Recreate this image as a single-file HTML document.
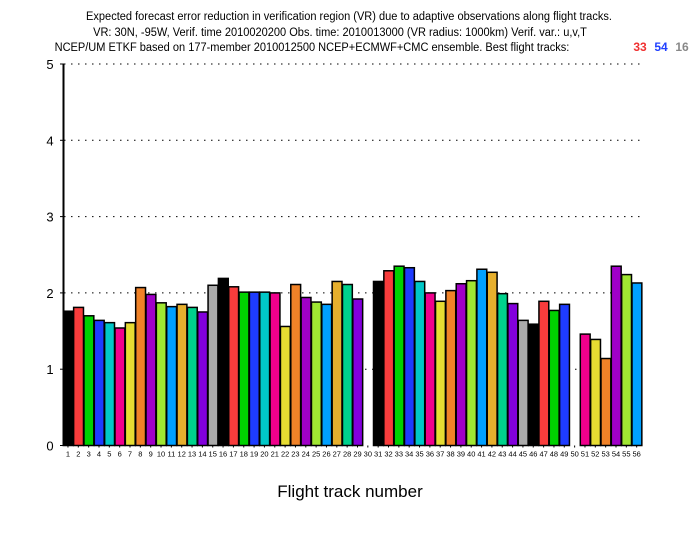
<!DOCTYPE html>
<html><head><meta charset="utf-8"><style>
body{margin:0;background:#fff}
svg text{font-family:"Liberation Sans",sans-serif}
</style></head><body>
<svg id="chart" width="700" height="540" viewBox="0 0 700 540" xmlns="http://www.w3.org/2000/svg">
<g font-size="12" text-anchor="middle">
<text x="349" y="20" transform="translate(349 0) scale(0.92 1) translate(-349 0)">Expected forecast error reduction in verification region (VR) due to adaptive observations along flight tracks.</text>
<text x="340" y="36" transform="translate(340 0) scale(0.92 1) translate(-340 0)">VR: 30N, -95W, Verif. time 2010020200 Obs. time: 2010013000 (VR radius: 1000km)  Verif. var.: u,v,T</text>
<text x="312" y="51" transform="translate(312 0) scale(0.92 1) translate(-312 0)">NCEP/UM ETKF based on 177-member 2010012500 NCEP+ECMWF+CMC ensemble. Best flight tracks:</text>
<text x="640" y="51" fill="#f03030" font-weight="bold">33</text>
<text x="661" y="51" fill="#2040ff" font-weight="bold">54</text>
<text x="682" y="51" fill="#888" font-weight="bold">16</text>
</g>
<g id="grid"></g><g id="bars"></g><g id="axes"></g>
<text x="350" y="497" font-size="17" text-anchor="middle">Flight track number</text>
</svg>
<script>
const tracks=[];for(let i=1;i<=56;i++)tracks.push(i);
const values=[1.76,1.81,1.70,1.64,1.61,1.54,1.61,2.07,1.98,1.87,1.82,1.85,1.81,1.75,2.10,2.19,2.08,2.01,2.01,2.01,2.00,1.56,2.11,1.94,1.88,1.85,2.15,2.11,1.92,0,
2.15,2.29,2.35,2.33,2.15,2.00,1.89,2.03,2.12,2.16,2.31,2.27,1.99,1.86,1.64,1.59,1.89,1.77,1.85,0,1.46,1.39,1.14,2.35,2.24,2.13];
const yTicks=[0,1,2,3,4,5];
const palette=["#000000","#f83c3c","#00d200","#1e3cff","#00c8c8","#f0008c","#e6dc32","#f08228","#a000c8","#a0e632","#00a0ff","#e6af2d","#00d28c","#8200dc","#aaaaaa"];
const NS="http://www.w3.org/2000/svg";
const x0=62.8,slot=10.34,y0=445.5,unit=76.3;
const X=i=>x0+(i-1)*slot, Y=v=>y0-v*unit;
function mk(t,a,p){const e=document.createElementNS(NS,t);for(const k in a)e.setAttribute(k,a[k]);p.appendChild(e);return e;}
const grid=document.getElementById('grid'),bars=document.getElementById('bars'),axes=document.getElementById('axes');
yTicks.forEach(v=>{
  if(v>0){const g=mk('line',{x1:64,x2:640,y1:Y(v),y2:Y(v),stroke:'#000','stroke-width':1,'stroke-dasharray':'1.5 5.5'},grid);
  
  }
  const t=mk('text',{x:50,y:Y(v)+5,'font-size':13,'text-anchor':'middle'},axes);t.textContent=v;
  
  
  mk('line',{x1:60,x2:64,y1:Y(v),y2:Y(v),stroke:'#000'},axes);
});
tracks.forEach((n,k)=>{
  const v=values[k];
  if(v>0){const r=mk('rect',{x:X(n)+0.5,y:Y(v),width:slot-0.5,height:y0-Y(v),fill:palette[(n-1)%15],stroke:'#000','stroke-width':1.5},bars);
  
  }
  const t=mk('text',{x:X(n)+slot/2,y:y0+11,'font-size':7.5,'text-anchor':'middle'},axes);t.textContent=n;
  
  
  mk('line',{x1:X(n)+slot/2,x2:X(n)+slot/2,y1:y0,y2:y0+2,stroke:'#000'},axes);
});
const ax=mk('line',{x1:63.5,x2:63.5,y1:Y(5),y2:y0,stroke:'#000','stroke-width':2},axes);


</script>
</body></html>
